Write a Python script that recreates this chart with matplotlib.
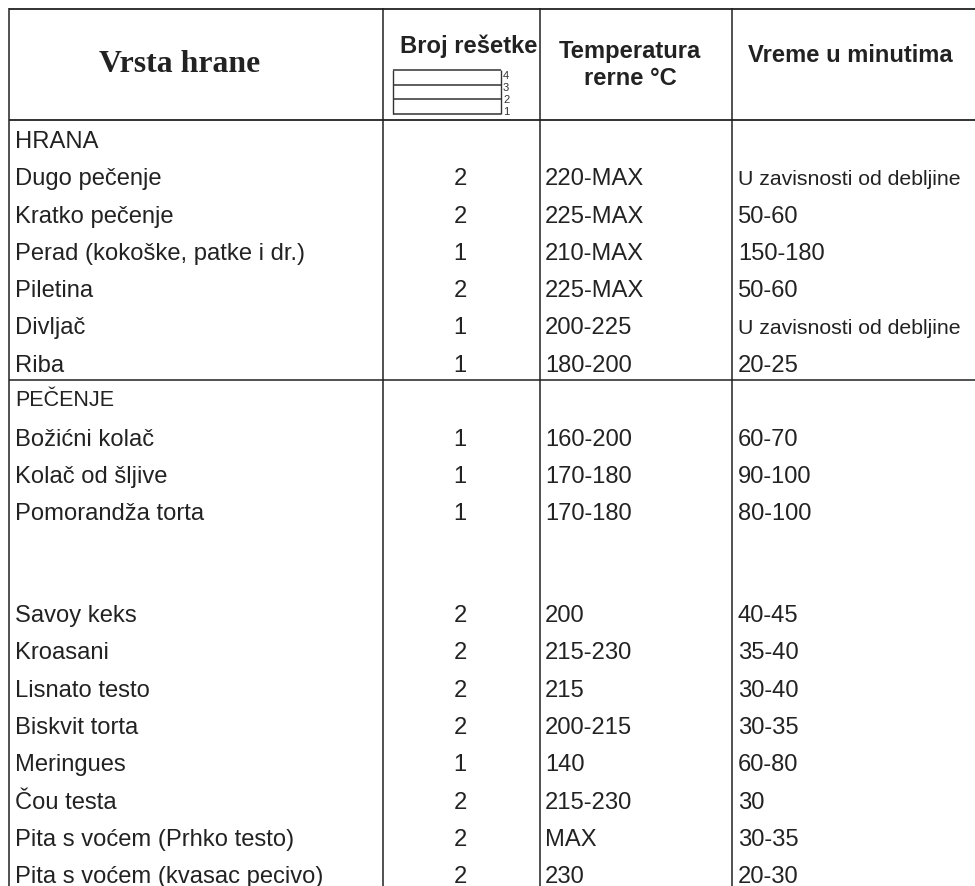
import matplotlib
matplotlib.use('Agg')
import matplotlib.pyplot as plt

plt.rcParams['font.family'] = ['Liberation Sans', 'DejaVu Sans']

# table content
food = ['HRANA', 'Dugo pečenje', 'Kratko pečenje', 'Perad (kokoške, patke i dr.)', 'Piletina',
        'Divljač', 'Riba', 'PEČENJE', 'Božićni kolač', 'Kolač od šljive', 'Pomorandža torta',
        'Savoy keks', 'Kroasani', 'Lisnato testo', 'Biskvit torta', 'Meringues', 'Čou testa',
        'Pita s voćem (Prhko testo)', 'Pita s voćem (kvasac pecivo)']
rack = ['', '2', '2', '1', '2', '1', '1', '', '1', '1', '1', '2', '2', '2', '2', '1', '2', '2', '2']
temp = ['', '220-MAX', '225-MAX', '210-MAX', '225-MAX', '200-225', '180-200', '', '160-200',
        '170-180', '170-180', '200', '215-230', '215', '200-215', '140', '215-230', 'MAX', '230']
mins = ['', 'U zavisnosti od debljine', '50-60', '150-180', '50-60', 'U zavisnosti od debljine',
        '20-25', '', '60-70', '90-100', '80-100', '40-45', '35-40', '30-40', '30-35', '60-80',
        '30', '30-35', '20-30']
# row position in row pitches below the first row (the gap after Pomorandža is blank rows)
row_idx = [0, 1, 2, 3, 4, 5, 6, 6.92, 7.98, 8.98, 9.98, 12.71, 13.71, 14.71, 15.71, 16.71, 17.71, 18.71, 19.71]
rack_levels = ['4', '3', '2', '1']

fig = plt.figure(figsize=(9.75, 8.87), dpi=100)
ax = fig.add_axes([0, 0, 1, 1])
ax.set_xlim(0, 975)
ax.set_ylim(887, 0)
ax.axis('off')

col_x = [9, 383, 540, 732]
first_baseline = 148
pitch = 37.3
fs = 17.1
ink = '#222222'

# rules
ax.hlines(9.5, 9, 975, color=ink, lw=1.3)
ax.hlines(120.5, 9, 975, color=ink, lw=1.3)
ax.hlines(381, 9, 975, color=ink, lw=1.1)
for x in col_x:
    ax.vlines(x, 9, 887, color=ink, lw=1.1)

# header
ax.text(180, 72, 'Vrsta hrane', family='Liberation Serif', weight='bold', fontsize=22.9,
        ha='center', va='baseline', color=ink)
ax.text(469, 53, 'Broj rešetke', weight='bold', fontsize=17.1, ha='center', va='baseline', color=ink)
ax.text(630, 58, 'Temperatura', weight='bold', fontsize=17.1, ha='center', va='baseline', color=ink)
ax.text(630, 85, 'rerne °C', weight='bold', fontsize=17.1, ha='center', va='baseline', color=ink)
ax.text(850, 62, 'Vreme u minutima', weight='bold', fontsize=17.1, ha='center', va='baseline', color=ink)

# little rack diagram
for i, lab in enumerate(rack_levels):
    ax.text(503, 76 + i * 11.9, lab, fontsize=8, ha='left', va='center', color='#333333')
ax.hlines([71, 85.5, 100, 114.5], 393, 501, color='#333333', lw=1.1)
ax.vlines([393, 501], 71, 114.5, color='#333333', lw=1.0)

# body rows
for i, r in enumerate(row_idx):
    y = first_baseline + r * pitch
    ax.text(15, y, food[i], fontsize=15.5 if food[i] == 'PEČENJE' else fs, ha='left', va='baseline', color=ink)
    ax.text(460, y, rack[i], fontsize=fs, ha='center', va='baseline', color=ink)
    ax.text(545, y, temp[i], fontsize=fs, ha='left', va='baseline', color=ink)
    small = mins[i].startswith('U ')
    ax.text(738, y, mins[i], fontsize=15.3 if small else fs, ha='left', va='baseline', color=ink)

fig.savefig('out.png', dpi=100)
